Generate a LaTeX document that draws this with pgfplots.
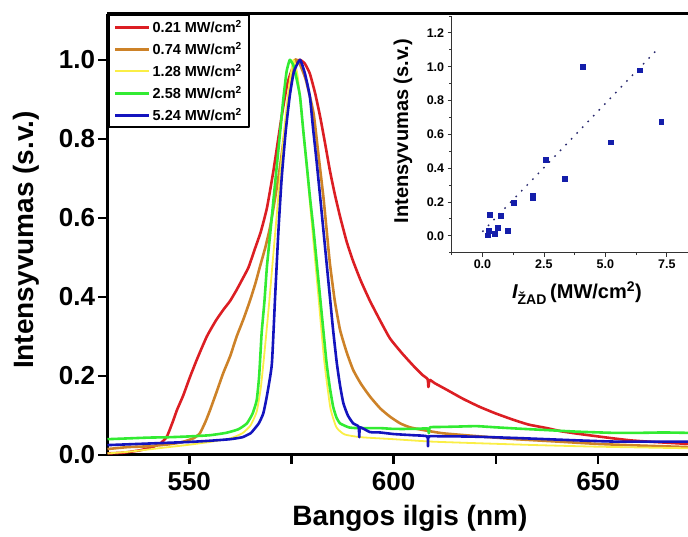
\documentclass[border=0pt]{standalone}
\usepackage{fontspec}
\setmainfont{Liberation Sans}
\usepackage{pgfplots}
\pgfplotsset{compat=1.18}

\definecolor{cRed}{RGB}{220,30,35}
\definecolor{cOrange}{RGB}{205,130,40}
\definecolor{cYellow}{RGB}{250,238,70}
\definecolor{cGreen}{RGB}{50,235,50}
\definecolor{cBlue}{RGB}{20,20,190}
\definecolor{cMark}{RGB}{20,30,170}
\definecolor{cFit}{RGB}{40,40,110}

\begin{document}
\begin{tikzpicture}
\useasboundingbox (0,0) rectangle (688pt,537pt);

% ---------------- emission spectra ----------------
\begin{axis}[
  at={(107.5pt,82pt)}, anchor=south west,
  scale only axis, width=580.5pt, height=441pt,
  xmin=530, xmax=672, ymin=0, ymax=1.116,
  axis x line*=box, axis y line*=left,
  xtick pos=left, ytick pos=left,
  xtick={550,600,650}, minor xtick={575,625},
  ytick={0,0.2,0.4,0.6,0.8,1.0},
  yticklabel style={/pgf/number format/.cd,fixed,fixed zerofill,precision=1},
  xticklabel style={yshift=-5pt},
  tick align=outside,
  major tick length=9pt, minor tick length=9pt,
  every tick/.style={black, line width=2.5pt},
  axis line style={line width=3pt},
  tick label style={font=\fontsize{26}{26}\selectfont\bfseries},
  /pgf/number format/assume math mode=true,
  xlabel={Bangos ilgis (nm)},
  ylabel={Intensyvumas (s.v.)},
  label style={font=\fontsize{28}{28}\selectfont\bfseries},
  xlabel style={at={(axis description cs:0.521,-0.143)}, anchor=center},
  ylabel style={at={(axis description cs:-0.140,0.4875)}, anchor=center},
  legend style={at={(axis description cs:0.001,0.999)}, anchor=north west,
    draw=black, line width=2pt, fill=white,
    font=\fontsize{14.5}{14.5}\selectfont\bfseries,
    inner xsep=5pt, inner ysep=3pt, row sep=4.2pt, cells={anchor=west}},
  legend image code/.code={\draw[#1] (0pt,0pt) -- (34pt,0pt);},
  line join=round,
  every axis plot/.append style={smooth, tension=0.3},
]
\addplot[cRed, line width=2.6pt] coordinates {
(530,0.004) (534,0.006) (538,0.012) (541,0.02) (543,0.03) (544.5,0.046)
(546,0.085) (547,0.114) (548.5,0.15) (550.2,0.198) (552,0.245) (554.3,0.30)
(556.5,0.34) (558.3,0.367) (560,0.39) (561.6,0.418) (563,0.445) (564.5,0.475)
(566,0.52) (567.5,0.565) (569,0.625) (570.6,0.72) (572.6,0.857) (574,0.94)
(575.5,0.985) (577,1.0) (578.3,0.99) (579.5,0.965) (580.8,0.915) (582,0.857)
(583.2,0.79) (584.4,0.72) (585.6,0.66) (586.9,0.603) (588.5,0.54) (590.1,0.49)
(592,0.44) (594.2,0.39) (596.7,0.34) (599.1,0.295) (602,0.258) (604.8,0.226)
(607,0.203) (608.3,0.192) (608.5,0.172) (608.8,0.19) (610,0.182) (613,0.165)
(617,0.142) (621,0.122) (625,0.105) (629.3,0.089) (633,0.077) (637.5,0.068)
(641,0.06) (645.6,0.053) (650,0.047) (653.8,0.042) (658,0.037) (662,0.034)
(667,0.031) (672,0.028)
};
\addlegendentry{0.21 MW/cm\textsuperscript{2}}
\addplot[cOrange, line width=2.6pt] coordinates {
(530,0.015) (535,0.02) (540,0.022) (545,0.027) (548,0.032) (551,0.042)
(552.6,0.055) (554,0.085) (555.1,0.114) (556.7,0.16) (558.3,0.207) (560,0.25)
(561.6,0.30) (563.3,0.345) (564.9,0.392) (566.2,0.435) (567.3,0.477) (568.6,0.525)
(569.8,0.578) (571,0.65) (572.2,0.73) (573.5,0.83) (574.7,0.93) (575.9,1.0)
(577,0.99) (578.5,0.95) (580.4,0.865) (581.6,0.76) (582.8,0.654) (583.6,0.57)
(584.4,0.485) (585.6,0.39) (586.9,0.316) (588.5,0.26) (590.1,0.215) (592,0.18)
(594.2,0.148) (596.7,0.118) (599.1,0.097) (601.6,0.08) (604,0.07) (607.3,0.063)
(612,0.055) (620,0.048) (630,0.04) (640,0.034) (650,0.028) (660,0.024) (672,0.02)
};
\addlegendentry{0.74 MW/cm\textsuperscript{2}}
\addplot[cYellow, line width=1.8pt] coordinates {
(530,0.004) (535,0.008) (540,0.014) (545,0.02) (550,0.026) (555,0.033)
(560,0.042) (563,0.055) (565,0.075) (566.5,0.11) (567.5,0.17) (568.5,0.27)
(569.5,0.38) (570.5,0.5) (571.5,0.62) (572.5,0.74) (573.5,0.85) (574.5,0.94)
(575.5,1.0) (576.5,0.96) (577.5,0.86) (578.8,0.72) (580.2,0.56) (581.6,0.4)
(583,0.24) (584.5,0.12) (586,0.07) (588,0.052) (592,0.045) (600,0.04)
(609,0.034) (620,0.03) (635,0.025) (650,0.021) (672,0.017)
};
\addlegendentry{1.28 MW/cm\textsuperscript{2}}
\addplot[cGreen, line width=2.6pt] coordinates {
(530,0.04) (535,0.042) (540,0.044) (545,0.045) (550,0.047) (555,0.05)
(559,0.056) (562,0.065) (564.1,0.08) (565.5,0.105) (566.5,0.139) (567.1,0.2)
(567.7,0.308) (568.4,0.39) (569,0.477) (569.8,0.56) (570.6,0.646) (571.4,0.73)
(572.2,0.814) (573,0.9) (573.8,0.97) (574.6,1.0) (575.5,0.985) (576.3,0.95)
(577.1,0.907) (577.9,0.82) (578.7,0.738) (579.5,0.655) (580.4,0.57) (581.2,0.485)
(582,0.40) (582.8,0.315) (583.6,0.232) (584.4,0.17) (585.2,0.122) (586,0.095)
(586.9,0.08) (589,0.07) (591,0.068) (596.7,0.068) (600,0.066) (605,0.066)
(608.3,0.067) (608.6,0.055) (608.9,0.07) (612,0.071) (616,0.072) (620.3,0.073)
(625,0.07) (630,0.067) (637.5,0.063) (645,0.059) (653.8,0.056) (660,0.056)
(666,0.057) (672,0.056)
};
\addlegendentry{2.58 MW/cm\textsuperscript{2}}
\addplot[cBlue, line width=2.6pt] coordinates {
(530,0.025) (535,0.027) (540,0.029) (545,0.031) (550,0.033) (555,0.036)
(560,0.04) (563,0.045) (565,0.055) (565.7,0.063) (567,0.08) (568.1,0.105)
(569,0.15) (570.2,0.23) (571,0.40) (571.8,0.565) (572.6,0.70) (573.6,0.82)
(574.6,0.91) (575.6,0.97) (577.1,1.0) (578.3,0.965) (579.5,0.907) (580.3,0.825)
(581.2,0.738) (582,0.655) (582.8,0.57) (583.6,0.485) (584.4,0.40) (585.2,0.315)
(586.1,0.232) (586.9,0.175) (587.7,0.131) (588.8,0.1) (590.1,0.08) (591.4,0.072)
(591.6,0.045) (591.8,0.07) (594.2,0.058) (596.7,0.057) (600,0.053) (604.8,0.05)
(608.2,0.047) (608.4,0.022) (608.6,0.047) (612,0.047) (616,0.047) (621.1,0.046)
(630,0.043) (637.5,0.04) (645,0.037) (653.8,0.034) (662,0.034) (672,0.034)
};
\addlegendentry{5.24 MW/cm\textsuperscript{2}}
\end{axis}

% ---------------- peak intensity vs. pump intensity ----------------
\begin{axis}[
  at={(451.7pt,284.3pt)}, anchor=south west,
  scale only axis, width=236.3pt, height=236.7pt,
  xmin=-1.25, xmax=8.36, ymin=-0.1, ymax=1.3,
  axis x line*=bottom, axis y line*=left,
  axis background/.style={fill=white},
  xtick={0,2.5,5,7.5}, minor xtick={-1.25,1.25,3.75,6.25},
  ytick={0,0.2,0.4,0.6,0.8,1.0,1.2},
  minor ytick={-0.1,0.1,0.3,0.5,0.7,0.9,1.1,1.3},
  xticklabel style={/pgf/number format/.cd,fixed,fixed zerofill,precision=1},
  yticklabel style={/pgf/number format/.cd,fixed,fixed zerofill,precision=1},
  tick align=outside,
  major tick length=4pt, minor tick length=2.5pt,
  every tick/.style={black!80, line width=0.8pt},
  axis line style={line width=0.9pt, black!80},
  tick label style={font=\fontsize{12.5}{12.5}\selectfont\bfseries},
  /pgf/number format/assume math mode=true,
  xlabel={{\itshape I}\textsubscript{ŽAD}\,(MW/cm\textsuperscript{2})},
  ylabel={Intensyvumas (s.v.)},
  label style={font=\fontsize{20}{20}\selectfont\bfseries},
  xlabel style={at={(axis description cs:0.530,-0.170)}, anchor=center},
  ylabel style={at={(axis description cs:-0.206,0.514)}, anchor=center},
]
\addplot[cFit, line width=1.4pt, dash pattern=on 1.6pt off 6.4pt] coordinates {
(0,0.024) (7.16,1.11)
};
\addplot[only marks, mark=square*, mark size=2.4pt, cMark] coordinates {
(0.20,0.004) (0.24,0.03) (0.28,0.125) (0.51,0.012) (0.62,0.048) (0.73,0.117)
(1.03,0.032) (1.26,0.196) (2.05,0.222) (2.05,0.235) (2.58,0.452) (3.36,0.336)
(4.08,1.0) (5.21,0.554) (6.38,0.979) (7.27,0.673)
};
\end{axis}
\end{tikzpicture}
\end{document}
